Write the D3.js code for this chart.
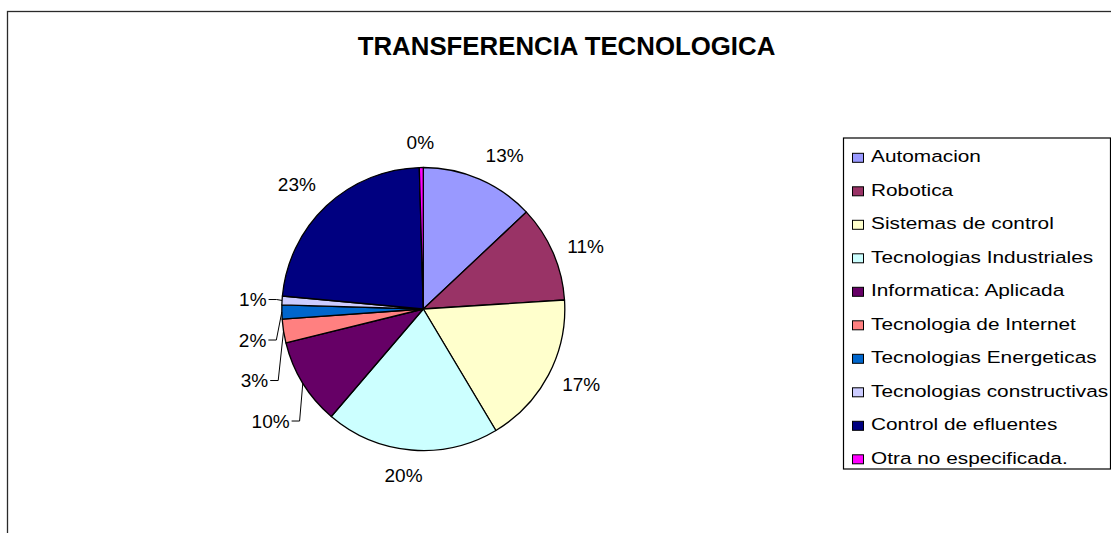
<!DOCTYPE html>
<html>
<head>
<meta charset="utf-8">
<script src="https://cdn.jsdelivr.net/npm/d3@7"></script>
<style>
  html, body { margin: 0; padding: 0; background: #fff; }
  svg { display: block; font-family: "Liberation Sans", Arial, sans-serif; }
</style>
</head>
<body>
<svg id="chart" width="1111" height="533"></svg>
<script>
const title = "TRANSFERENCIA TECNOLOGICA";
const categories = [
  "Automacion", "Robotica", "Sistemas de control", "Tecnologias Industriales",
  "Informatica: Aplicada", "Tecnologia de Internet", "Tecnologias Energeticas",
  "Tecnologias constructivas", "Control de efluentes", "Otra no especificada."
];
const values = [13.0, 11.0, 17.45, 19.85, 9.9, 2.7, 1.6, 1.0, 23.1, 0.45];
const colors = [
  "#9999FF", "#993366", "#FFFFCC", "#CCFFFF", "#660066",
  "#FF8080", "#0066CC", "#CCCCFF", "#000080", "#FF00FF"
];

const svg = d3.select("#chart");

// outer chart frame (extends beyond the visible area on right/bottom)
svg.append("rect")
  .attr("x", 7.5).attr("y", 11.5)
  .attr("width", 1200).attr("height", 600)
  .attr("fill", "#fff").attr("stroke", "#2a2a2a").attr("stroke-width", 1.3);

// title
svg.append("text")
  .attr("x", 566.5).attr("y", 55)
  .attr("text-anchor", "middle")
  .attr("font-weight", "bold")
  .attr("font-size", 25.8)
  .attr("fill", "#000")
  .text(title);

// pie
const cx = 423.3, cy = 309, r = 141.5;
const data = categories.map((c, i) => ({ cat: c, value: values[i], color: colors[i] }));
const total = d3.sum(values);
const pie = d3.pie().value(d => d.value).sort(null);
const arcs = pie(data);
const arcGen = d3.arc().innerRadius(0).outerRadius(r);

const g = svg.append("g").attr("transform", `translate(${cx},${cy})`);
g.selectAll("path.slice").data(arcs).join("path")
  .attr("class", "slice")
  .attr("d", arcGen)
  .attr("fill", d => d.data.color)
  .attr("stroke", "#000")
  .attr("stroke-width", 1.3)
  .attr("stroke-linejoin", "round");

// labels
const fmt = d3.format(".0%");
const labelR = r + 15.5;
const clamp = v => Math.max(-1, Math.min(1, v));
const yShift = c => Math.sign(c) * Math.max(0, Math.min(1, (Math.abs(c) - 0.4) * 3));
const lblG = svg.append("g");
const labels = arcs.map(d => {
  const a = (d.startAngle + d.endAngle) / 2;
  const t = lblG.append("text")
    .attr("font-size", 19)
    .attr("fill", "#000")
    .attr("text-anchor", "middle")
    .attr("dy", "0.35em")
    .text(fmt(d.data.value / total));
  const w = t.node().getComputedTextLength();
  const h = 20;
  const sa = Math.sin(a), ca = Math.cos(a);
  const px = cx + labelR * sa, py = cy - labelR * ca;
  return {
    t, a, w, h,
    x: px + clamp(sa * 4) * w / 2,
    y: py - yShift(ca) * h / 2,
    left: sa < 0,
    leader: false
  };
});

// simple collision resolution (push downward), per side
const minGap = 40.5;
[true, false].forEach(side => {
  const group = labels.filter(l => l.left === side).sort((p, q) => p.y - q.y);
  const placed = [];
  group.forEach(l => {
    placed.forEach(p => {
      const overlapX = Math.abs(l.x - p.x) < (l.w + p.w) / 2;
      if (overlapX && l.y < p.y + minGap) {
        l.y = p.y + minGap;
        l.leader = true;
        p.leader = true;
      }
    });
    placed.push(l);
  });
});

labels.forEach(l => {
  l.t.attr("x", l.x).attr("y", l.y);
  if (l.leader) {
    const dir = l.left ? 1 : -1;
    const sx = l.x + dir * (l.w / 2 + 2);
    const stub = sx + dir * 8;
    const ex = cx + r * Math.sin(l.a), ey = cy - r * Math.cos(l.a);
    lblG.append("path")
      .attr("d", d3.line()([[sx, l.y], [stub, l.y], [ex, ey]]))
      .attr("fill", "none")
      .attr("stroke", "#000")
      .attr("stroke-width", 1);
  }
});

// legend
const lg = svg.append("g");
lg.append("rect")
  .attr("x", 843.5).attr("y", 138)
  .attr("width", 267).attr("height", 331)
  .attr("fill", "#fff").attr("stroke", "#000").attr("stroke-width", 1.2);
const rowStep = 33.5, base0 = 162.3;
const items = lg.selectAll("g.item").data(data).join("g").attr("class", "item");
items.append("rect")
  .attr("x", 852.5)
  .attr("y", (d, i) => base0 + i * rowStep - 9)
  .attr("width", 11)
  .attr("height", 9)
  .attr("fill", d => d.color)
  .attr("stroke", "#000")
  .attr("stroke-width", 1);
items.append("text")
  .attr("transform", (d, i) => `translate(871,${base0 + i * rowStep}) scale(1.225,1)`)
  .attr("font-size", 17)
  .attr("fill", "#000")
  .text(d => d.cat);
</script>
</body>
</html>
